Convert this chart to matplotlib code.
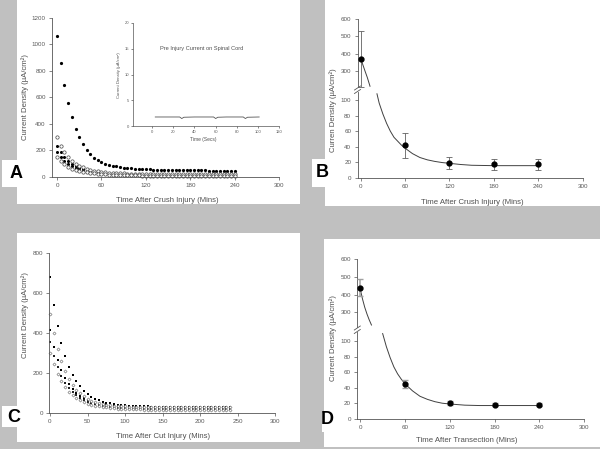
import matplotlib
matplotlib.use('Agg')
import matplotlib.pyplot as plt
from matplotlib.patches import Rectangle
from matplotlib.lines import Line2D

plt.rcParams['font.family'] = ['Liberation Sans', 'DejaVu Sans']

W, H = 600, 449

# ---------------- data ----------------
t_min = list(range(0, 245, 5))  # 0..240 min every 5 min

# Panel A (crush injury, individual recordings)
A1 = [1060, 855, 690, 555, 450, 365, 300, 248, 205, 172, 146, 125, 110,
      100, 92, 85, 80, 75, 71, 68, 65, 63, 61, 59, 58,
      57, 56, 55, 54, 53, 53, 52, 52, 51, 51, 50, 50,
      50, 49, 49, 49, 48, 48, 48, 48, 47, 47, 47, 47]
A2 = [300, 235, 185, 150, 122, 100, 84, 72, 62, 54, 48, 43, 39,
      36, 33, 31, 29, 28, 27, 26, 25, 24, 24, 23, 23,
      22, 22, 22, 22, 21, 21, 21, 21, 21, 21, 21, 21,
      21, 21, 21, 20, 20, 20, 20, 20, 20, 20, 20, 20]
A3 = [235, 190, 150, 122, 100, 82, 68, 58, 50, 44, 39, 35, 31,
      28, 26, 24, 22, 21, 20, 19, 18, 18, 17, 17, 17,
      16, 16, 16, 16, 16, 15, 15, 15, 15, 15, 15, 15,
      15, 15, 15, 15, 15, 15, 15, 15, 15, 15, 15, 15]
A4 = [190, 150, 120, 97, 80, 66, 55, 47, 41, 36, 32, 28, 25,
      23, 21, 19, 18, 17, 16, 15, 15, 14, 14, 14, 13,
      13, 13, 13, 13, 12, 12, 12, 12, 12, 12, 12, 12,
      12, 12, 12, 12, 12, 12, 12, 12, 12, 12, 12, 12]
A5 = [150, 120, 95, 78, 64, 53, 45, 39, 34, 30, 27, 24, 22,
      20, 18, 17, 16, 15, 14, 13, 13, 12, 12, 11, 11,
      11, 11, 10, 10, 10, 10, 10, 10, 10, 10, 10, 10,
      10, 10, 10, 10, 10, 10, 10, 10, 10, 10, 10, 10]

# Inset (pre-injury current)
ins_t = [3, 10, 20, 26, 28, 30, 40, 50, 58, 60, 62, 70, 80, 86, 88, 90, 101]
ins_y = [1.75, 1.75, 1.75, 1.75, 1.45, 1.7, 1.75, 1.75, 1.75, 1.45, 1.7,
         1.75, 1.75, 1.75, 1.45, 1.7, 1.75]

# Panel B (crush mean +/- error)
B_t = [0, 60, 120, 180, 240]
B_mean = [370, 42, 19, 17, 17]
B_err = [160, 16, 8, 7.5, 7.5]
B_fit_t_up = [0, 3, 6, 9, 12.6]
B_fit_y_up = [370, 335, 298, 262, 212]
B_fit_t_lo = [22, 25, 30, 35, 40, 45, 50, 55, 60, 70, 80, 90, 100, 110, 120, 135, 150, 180, 240]
B_fit_y_lo = [108, 96, 82, 70, 60, 52, 47, 42, 38, 31, 26, 23, 21, 19.5, 18.5, 17, 16, 15.5, 15.5]

# Panel C (cut injury)
C1 = [680, 540, 435, 350, 285, 230, 190, 158, 132, 110, 94, 81, 70,
      62, 56, 51, 47, 44, 41, 39, 37, 36, 35, 34, 33,
      32, 32, 31, 31, 31, 30, 30, 30, 30, 30, 30, 30,
      30, 30, 30, 30, 30, 30, 30, 30, 30, 30, 30, 30]
C2 = [495, 400, 320, 258, 210, 170, 140, 116, 97, 82, 70, 61, 54,
      48, 44, 41, 38, 36, 34, 33, 32, 31, 30, 29, 29,
      28, 28, 28, 27, 27, 27, 27, 27, 27, 27, 27, 27,
      27, 27, 27, 27, 27, 27, 27, 27, 27, 27, 27, 27]
C3 = [415, 330, 265, 215, 175, 145, 120, 100, 85, 73, 63, 55, 49,
      44, 40, 37, 34, 32, 30, 28, 27, 26, 25, 24, 24,
      23, 23, 23, 22, 22, 22, 22, 22, 22, 22, 22, 22,
      22, 22, 22, 22, 22, 22, 22, 22, 22, 22, 22, 22]
C4 = [355, 285, 230, 185, 150, 125, 105, 88, 75, 64, 56, 49, 43,
      39, 35, 32, 30, 28, 26, 24, 23, 22, 21, 21, 20,
      20, 19, 19, 19, 19, 18, 18, 18, 18, 18, 18, 18,
      18, 18, 18, 18, 18, 18, 18, 18, 18, 18, 18, 18]
C5 = [300, 245, 195, 158, 128, 105, 88, 74, 62, 53, 46, 40, 36,
      32, 29, 27, 25, 23, 21, 20, 19, 18, 18, 17, 17,
      16, 16, 16, 16, 16, 15, 15, 15, 15, 15, 15, 15,
      15, 15, 15, 15, 15, 15, 15, 15, 15, 15, 15, 15]

# Panel D (transection mean +/- error)
D_t = [0, 60, 120, 180, 240]
D_mean = [440, 45, 20, 18, 18]
D_err = [50, 5, 2.5, 2, 2]
D_fit_t_up = [0, 3, 6, 9, 12, 15]
D_fit_y_up = [430, 375, 328, 290, 257, 228]
D_fit_t_lo = [30, 35, 40, 45, 50, 55, 60, 70, 80, 90, 100, 110, 120, 140, 160, 200, 240]
D_fit_y_lo = [110, 93, 79, 67, 58, 51, 45, 36, 29, 25, 22, 20, 19, 17.5, 17, 17, 17]

xt_60 = [0, 60, 120, 180, 240, 300]
xt_50 = [0, 50, 100, 150, 200, 250, 300]

# ---------------- figure ----------------
fig = plt.figure(figsize=(6.0, 4.49), dpi=100, facecolor='#c0c0c0')

def rect_px(x0, y0, x1, y1, color='white'):
    fig.patches.append(Rectangle((x0 / W, 1 - y1 / H), (x1 - x0) / W, (y1 - y0) / H,
                                 transform=fig.transFigure, fc=color, ec='none', zorder=-5))

def px_axes(left, right, top, bottom):
    ax = fig.add_axes([left / W, 1 - bottom / H, (right - left) / W, (bottom - top) / H])
    ax.patch.set_visible(False)
    return ax

TXT = '#505050'
TICKTXT = '#5a5a5a'
SP = '#555555'

def style(ax, fs=4.5, tl=2.0, lw=0.6):
    for s in ('top', 'right'):
        ax.spines[s].set_visible(False)
    for s in ('left', 'bottom'):
        ax.spines[s].set_color(SP)
        ax.spines[s].set_linewidth(lw)
    ax.tick_params(labelsize=fs, colors=SP, labelcolor=TICKTXT, length=tl, width=0.5, pad=2.5)

def ftext(xp, yp, s, **kw):
    fig.text(xp / W, 1 - yp / H, s, color=TXT, ha='center', va='center', **kw)

def fline(pts):
    xs = [p[0] / W for p in pts]
    ys = [1 - p[1] / H for p in pts]
    fig.lines.append(Line2D(xs, ys, transform=fig.transFigure, color=SP, lw=0.6))

# panel backgrounds
rect_px(17, 0, 300, 204)
rect_px(325, 0, 600, 206)
rect_px(17, 233, 300, 442)
rect_px(324, 239, 600, 447)

YLAB = 'Current Density (µA/cm²)'

# ---- Panel A ----
axA = px_axes(52, 279.3, 17.7, 177)
style(axA)
axA.plot(t_min, A1, 'o', ms=2.3, color='black', mew=0)
axA.plot(t_min, A3, 'o', ms=2.2, color='black', mew=0)
axA.plot(t_min, A4, 'o', ms=2.2, color='black', mew=0)
axA.plot(t_min, A2, 'o', ms=2.4, mfc='white', mec='#444444', mew=0.5)
axA.plot(t_min, A5, 'o', ms=2.4, mfc='white', mec='#444444', mew=0.5)
axA.set_xlim(-6.75, 300)
axA.set_ylim(0, 1200)
axA.set_xticks(xt_60)
axA.set_yticks([0, 200, 400, 600, 800, 1000, 1200])
for p in axA.lines:
    p.set_clip_on(False)
ftext(25, 97, YLAB, fontsize=5.6, rotation=90)
ftext(167, 200, 'Time After Crush Injury (Mins)', fontsize=5.6)

axI = px_axes(133, 279.3, 23, 126)
style(axI, fs=3.0, tl=1.5, lw=0.5)
axI.plot(ins_t, ins_y, color='#555555', lw=0.6)
axI.set_xlim(-18, 120)
axI.set_ylim(0, 20)
axI.set_xticks([0, 20, 40, 60, 80, 100, 120])
axI.set_yticks([0, 5, 10, 15, 20])
axI.tick_params(pad=1.5)
axI.text(47, 15, 'Pre Injury Current on Spinal Cord', fontsize=4.1, color=TXT,
         ha='center', va='center')
ftext(203, 140, 'Time (Secs)', fontsize=3.5)
ftext(119, 75, YLAB, fontsize=3.0, rotation=90)

# ---- Panel B ----
axBu = px_axes(357.5, 582.7, 19, 86.7)
axBl = px_axes(357.5, 582.7, 91.7, 177.7)
for ax in (axBu, axBl):
    style(ax)
    ax.errorbar(B_t, B_mean, yerr=B_err, fmt='o', ms=3.5, color='black',
                ecolor='#606060', elinewidth=0.6, capsize=2.5, capthick=0.6, zorder=3)
    ax.set_xlim(-4.3, 300)
axBu.plot(B_fit_t_up, B_fit_y_up, color='#404040', lw=0.7)
axBl.plot(B_fit_t_lo, B_fit_y_lo, color='#404040', lw=0.7)
axBu.set_ylim(209.4, 600)
axBu.set_yticks([300, 400, 500, 600])
axBu.spines['bottom'].set_visible(False)
axBu.tick_params(axis='x', bottom=False, labelbottom=False)
axBl.set_ylim(0, 110.7)
axBl.set_yticks([0, 20, 40, 60, 80, 100])
axBl.set_xticks(xt_60)
fline([(354.5, 90.0), (360.5, 86.0)])
fline([(354.5, 93.5), (360.5, 89.5)])
ftext(333, 110, 'Curren Density (µA/cm²)', fontsize=5.6, rotation=90)
ftext(472, 202, 'Time After Crush Injury (Mins)', fontsize=5.6)

# ---- Panel C ----
axC = px_axes(49.3, 275.3, 253.3, 412.7)
style(axC)
axC.plot(t_min, C1, 's', ms=1.6, color='black', mew=0)
axC.plot(t_min, C3, 's', ms=1.6, color='black', mew=0)
axC.plot(t_min, C4, 's', ms=1.6, color='#222222', mew=0)
axC.plot(t_min, C2, 'D', ms=1.6, mfc='white', mec='#666666', mew=0.4)
axC.plot(t_min, C5, 'D', ms=1.6, mfc='white', mec='#666666', mew=0.4)
axC.set_xlim(-0.93, 300)
axC.set_ylim(0, 800)
axC.set_xticks(xt_50)
axC.set_yticks([0, 200, 400, 600, 800])
for p in axC.lines:
    p.set_clip_on(False)
ftext(25, 315, YLAB, fontsize=5.6, rotation=90)
ftext(163, 436, 'Time After Cut Injury (Mins)', fontsize=5.6)

# ---- Panel D ----
axDu = px_axes(357.3, 584, 259.3, 326.7)
axDl = px_axes(357.3, 584, 331.7, 418.7)
for ax in (axDu, axDl):
    style(ax)
    ax.errorbar(D_t, D_mean, yerr=D_err, fmt='o', ms=3.5, color='black',
                ecolor='#a0a0a0', elinewidth=1.1, capsize=2.5, capthick=1.0, zorder=3)
    ax.set_xlim(-4.0, 300)
axDu.plot(D_fit_t_up, D_fit_y_up, color='#404040', lw=0.7)
axDl.plot(D_fit_t_lo, D_fit_y_lo, color='#404040', lw=0.7)
axDu.set_ylim(218.5, 600)
axDu.set_yticks([300, 400, 500, 600])
axDu.spines['bottom'].set_visible(False)
axDu.tick_params(axis='x', bottom=False, labelbottom=False)
axDl.set_ylim(0, 112.4)
axDl.set_yticks([0, 20, 40, 60, 80, 100])
axDl.set_xticks(xt_60)
fline([(354.3, 330.0), (360.3, 326.0)])
fline([(354.3, 333.5), (360.3, 329.5)])
ftext(333, 338, YLAB, fontsize=5.6, rotation=90)
ftext(467, 440, 'Time After Transection (Mins)', fontsize=5.6)

# ---- panel letters ----
rect_px(2, 160, 25, 187)
rect_px(312, 159, 333, 187)
rect_px(2, 406, 33, 427)
rect_px(322, 413, 340, 432)
for (xp, yp, s) in [(16, 173, 'A'), (322, 172, 'B'), (13.5, 417, 'C'), (327, 419, 'D')]:
    fig.text(xp / W, 1 - yp / H, s, color='black', ha='center', va='center',
             fontsize=13, fontweight='bold')

fig.savefig('out.png', dpi=100, facecolor=fig.get_facecolor())
